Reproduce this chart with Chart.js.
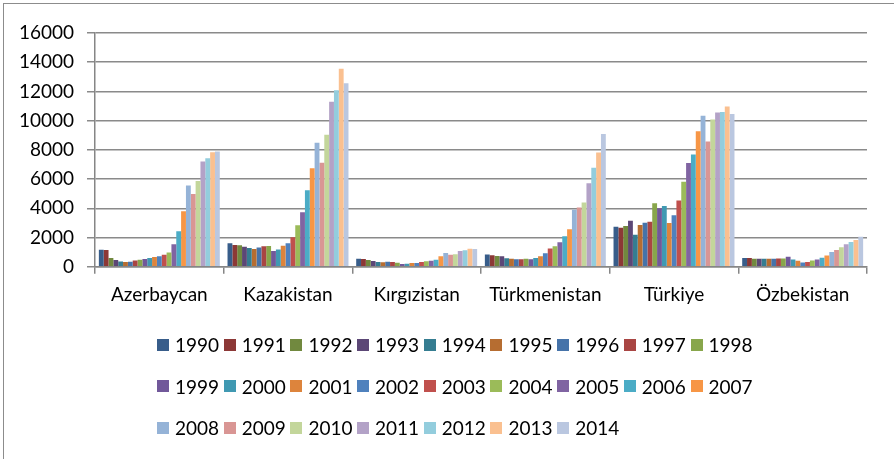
<!DOCTYPE html>
<html>
<head>
<meta charset="utf-8">
<title>Chart</title>
<script src="https://cdn.jsdelivr.net/npm/chart.js@4.4.0/dist/chart.umd.min.js"></script>
<style>
    body { margin: 0; background: #fff; }
    #wrap { position: relative; width: 894px; height: 459px; overflow: hidden; background: #fff; }
    #frame { position: absolute; left: 3px; top: 3px; width: 920px; height: 480px; border: 1px solid #8c8c8c; }
    #myChart { position: absolute; left: 0; top: 0; }
    #legend { position: absolute; left: 157px; top: 324px; display: grid;
              grid-template-columns: repeat(9, 66.7px); grid-auto-rows: 41.5px;
              font-family: Lato, sans-serif; font-size: 19px; color: #000; }
    .item { display: flex; align-items: center; white-space: nowrap; }
    .box { width: 12px; height: 12px; margin-right: 6px; flex: none; }
</style>
</head>
<body>
<div id="wrap">
    <div id="frame"></div>
    <canvas id="myChart" width="894" height="459"></canvas>
    <div id="legend"></div>
</div>
<script>
// Categories and years
const countries = ['Azerbaycan', 'Kazakistan', 'Kırgızistan', 'Türkmenistan', 'Türkiye', 'Özbekistan'];
const years = ['1990', '1991', '1992', '1993', '1994', '1995', '1996', '1997', '1998', '1999', '2000', '2001', '2002',
    '2003', '2004', '2005', '2006', '2007', '2008', '2009', '2010', '2011', '2012', '2013', '2014'];

// Values per country, 1990..2014
const azerbaycan = [1165, 1150, 600, 460, 360, 320, 340, 430, 480, 530, 590, 660, 710, 820, 980, 1530, 2420, 3800, 5560, 4970, 5860, 7195, 7425, 7840, 7885];
const kazakistan = [1600, 1490, 1460, 1370, 1280, 1210, 1310, 1400, 1420, 1080, 1170, 1440, 1600, 2010, 2830, 3720, 5230, 6740, 8480, 7120, 9040, 11300, 12080, 13560, 12560];
const kirgizistan = [550, 525, 460, 390, 320, 300, 340, 320, 275, 185, 205, 250, 250, 320, 365, 410, 480, 710, 940, 820, 850, 1075, 1120, 1235, 1210];
const turkmenistan = [830, 780, 740, 710, 575, 550, 505, 505, 550, 505, 600, 710, 920, 1240, 1400, 1680, 2090, 2570, 3900, 4050, 4390, 5720, 6780, 7820, 9090];
const turkiye = [2740, 2670, 2785, 3150, 2190, 2850, 3010, 3080, 4340, 4000, 4155, 2990, 3520, 4540, 5820, 7100, 7690, 9270, 10340, 8580, 10070, 10550, 10590, 10960, 10460];
const ozbekistan = [600, 600, 540, 540, 540, 540, 540, 565, 565, 680, 495, 400, 280, 330, 420, 495, 610, 775, 1010, 1150, 1340, 1530, 1690, 1835, 2050];

const yTicks = [0, 2000, 4000, 6000, 8000, 10000, 12000, 14000, 16000];

// Excel 2007 style series colours
const colors = ['#385D8A', '#8C3836', '#71893F', '#5C4776', '#357D91', '#B66D31',
    '#4673A9', '#A94543', '#88A64B', '#71589A', '#4099B2', '#DD843C',
    '#4F81BD', '#C0504D', '#9BBB59', '#8064A2', '#4BACC6', '#F79646',
    '#95B3D7', '#D99694', '#C3D69B', '#B3A2C7', '#93CDDD', '#FAC090', '#BAC7E0'];

const rows = [azerbaycan, kazakistan, kirgizistan, turkmenistan, turkiye, ozbekistan];

// one dataset per year
const datasets = years.map((year, i) => ({
    label: year,
    data: rows.map(r => r[i]),
    backgroundColor: colors[i],
    borderWidth: 0,
    categoryPercentage: 0.94,
    barPercentage: 1.0
}));

const font = { family: 'Lato, sans-serif', size: 19 };

const chart = new Chart(document.getElementById('myChart').getContext('2d'), {
    type: 'bar',
    data: { labels: countries, datasets: datasets },
    options: {
        responsive: false,
        animation: false,
        devicePixelRatio: 1,
        layout: { padding: { left: 0, right: 27, top: 33, bottom: 150 } },
        plugins: { legend: { display: false }, tooltip: { enabled: false } },
        scales: {
            x: {
                afterFit: s => { s.height = 42.3; },
                grid: { offset: true, drawOnChartArea: false, drawTicks: true, tickLength: 7, color: '#868686', lineWidth: 1.5 },
                border: { color: '#868686', width: 1.5 },
                ticks: { font: font, color: '#000', padding: 10 }
            },
            y: {
                min: 0,
                max: 16000,
                afterFit: s => { s.width = 95; },
                afterBuildTicks: s => { s.ticks = yTicks.map(v => ({ value: v })); },
                grid: { color: '#8a8a8a', lineWidth: 1.5, tickLength: 8 },
                border: { color: '#868686', width: 1.5 },
                ticks: { font: font, color: '#000', padding: 13, callback: v => String(v) }
            }
        }
    }
});

// legend built from the chart's own datasets
const legend = document.getElementById('legend');
chart.data.datasets.forEach(ds => {
    const item = document.createElement('div');
    item.className = 'item';
    const box = document.createElement('span');
    box.className = 'box';
    box.style.background = ds.backgroundColor;
    item.appendChild(box);
    item.appendChild(document.createTextNode(ds.label));
    legend.appendChild(item);
});
</script>
</body>
</html>
